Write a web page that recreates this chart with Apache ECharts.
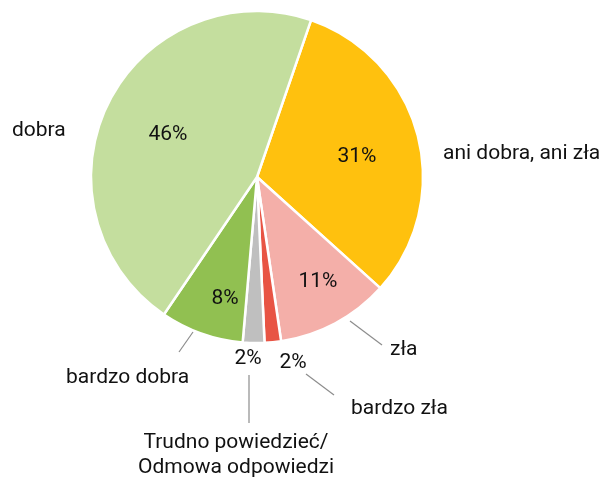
<!DOCTYPE html>
<html>
<head>
<meta charset="utf-8">
<script src="https://cdn.jsdelivr.net/npm/echarts@6/dist/echarts.min.js"></script>
<style>
html,body{margin:0;padding:0;background:#fff;}
#chart{width:606px;height:479px;}
</style>
</head>
<body>
<div id="chart"></div>
<script>
// Data (clockwise from the top)
const categories = ['ani dobra, ani zła', 'zła', 'bardzo zła', 'Trudno powiedzieć/\nOdmowa odpowiedzi', 'bardzo dobra', 'dobra'];
const values = [31.4, 11.0, 1.6, 2.1, 8.1, 45.8];
const colors = ['#FFC10E', '#F4AFA9', '#E85444', '#BFBFBF', '#91C051', '#C4DE9E'];

// Label placement (layout only)
const namePos = [[443, 154, 'left'], [390, 350, 'left'], [351, 409, 'left'], [236, 455, 'center'], [66, 378, 'left'], [12, 131, 'left']];
const nameLines = [null, [[350, 321], [382, 345]], [[306, 374], [334, 395]], [[249, 375], [249, 423]], [[193, 332], [179, 352]], null];
const pctPos = [[357, 157], [318, 282], [293, 363], [248, 359], [225, 299], [168, 135]];

const chart = echarts.init(document.getElementById('chart'), null, {renderer: 'canvas'});
const font = 'Roboto, sans-serif';
const center = [257, 177];
const radius = 166;
const startAngle = 71;

const option = {
  animation: false,
  backgroundColor: '#ffffff',
  series: [
    {
      type: 'pie',
      center: center,
      radius: radius,
      startAngle: startAngle,
      clockwise: true,
      silent: true,
      itemStyle: {borderColor: '#ffffff', borderWidth: 2.5},
      label: {show: true, position: 'inside', formatter: p => Math.round(values[p.dataIndex]) + '%', fontFamily: font, fontSize: 21, color: '#111111'},
      labelLine: {show: false},
      labelLayout: p => ({x: pctPos[p.dataIndex][0], y: pctPos[p.dataIndex][1], align: 'center', verticalAlign: 'middle'}),
      data: categories.map((c, i) => ({name: c, value: values[i], itemStyle: {color: colors[i]}}))
    },
    {
      type: 'pie',
      center: center,
      radius: radius,
      startAngle: startAngle,
      clockwise: true,
      silent: true,
      z: 3,
      itemStyle: {color: 'rgba(0,0,0,0)', borderWidth: 0},
      label: {show: true, position: 'outside', overflow: 'none', formatter: p => categories[p.dataIndex], fontFamily: font, fontSize: 21, color: '#111111', lineHeight: 25},
      labelLine: {show: true, lineStyle: {color: '#8c8c8c', width: 1.2}},
      labelLayout: p => {
        const pos = namePos[p.dataIndex];
        const r = {x: pos[0], y: pos[1], align: pos[2], verticalAlign: 'middle'};
        if (nameLines[p.dataIndex]) r.labelLinePoints = nameLines[p.dataIndex];
        return r;
      },
      data: categories.map((c, i) => ({
        name: c, value: values[i],
        labelLine: {show: !!nameLines[i]}
      }))
    }
  ]
};
chart.setOption(option);
</script>
</body>
</html>
